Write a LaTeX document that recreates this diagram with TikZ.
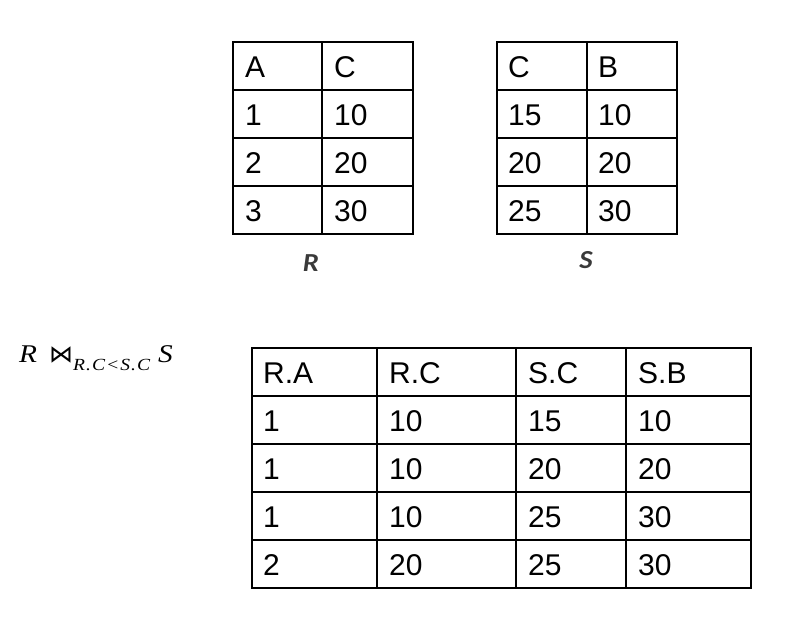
\documentclass[tikz,border=0pt]{standalone}
\usepackage{fontspec}
\setmainfont{Liberation Sans}
\newfontfamily\cellfont{Liberation Sans}
\newfontfamily\labfont[FakeStretch=1.1]{Carlito}
\newfontfamily\serifit[FakeStretch=1.15]{Liberation Serif}
\newfontfamily\subit[FakeStretch=1.15,LetterSpace=6]{Liberation Serif}
\newfontfamily\symfont{DejaVu Sans}
\definecolor{labgray}{HTML}{3A3A3A}
\begin{document}
\begin{tikzpicture}[x=1pt,y=-1pt,
  cell/.style={anchor=base west, inner sep=0pt, font=\cellfont\fontsize{30}{34}\selectfont},
  grid/.style={line width=1.3pt, black},
  lab/.style={anchor=base, inner sep=0pt, text=labgray, font=\labfont\bfseries\itshape\fontsize{26}{30}\selectfont},
  mathpart/.style={anchor=base west, inner sep=0pt}]
\useasboundingbox (0,0) rectangle (799,642);

% ---- table R ----
\draw[grid] (233,42) rectangle (413,234);
\foreach \y in {90,138,186} \draw[grid] (233,\y) -- (413,\y);
\draw[grid] (322,42) -- (322,234);
\foreach \t [count=\i from 0] in {A,1,2,3}
  \node[cell] (ra\i) at (245,{77+48*\i}) {\t};
\foreach \t [count=\i from 0] in {C,10,20,30}
  \node[cell] (rc\i) at (334,{77+48*\i}) {\t};
\node[lab] (rlabel) at (311,271) {R};

% ---- table S ----
\draw[grid] (497,42) rectangle (677,234);
\foreach \y in {90,138,186} \draw[grid] (497,\y) -- (677,\y);
\draw[grid] (587,42) -- (587,234);
\foreach \t [count=\i from 0] in {C,15,20,25}
  \node[cell] (sc\i) at (508,{77+48*\i}) {\t};
\foreach \t [count=\i from 0] in {B,10,20,30}
  \node[cell] (sb\i) at (598,{77+48*\i}) {\t};
\node[lab] (slabel) at (586,268) {S};

% ---- join formula ----
\node[mathpart, font=\serifit\itshape\fontsize{25.5}{30}\selectfont] (jr) at (19,362) {R};
\node[mathpart, font=\symfont\fontsize{24}{28}\selectfont] (jb) at (49,362) {⋈};
\node[mathpart, font=\subit\itshape\fontsize{17}{20}\selectfont] (jc) at (73,370) {R.C<S.C};
\node[mathpart, font=\serifit\itshape\fontsize{25.5}{30}\selectfont] (js) at (158,362) {S};

% ---- result table ----
\draw[grid] (252,348) rectangle (751,588);
\foreach \y in {396,444,492,540} \draw[grid] (252,\y) -- (751,\y);
\foreach \x in {377,516,626} \draw[grid] (\x,348) -- (\x,588);
\foreach \t [count=\i from 0] in {R.A,1,1,1,2}
  \node[cell] (ta\i) at (263,{383.5+48*\i}) {\t};
\foreach \t [count=\i from 0] in {R.C,10,10,10,20}
  \node[cell] (tb\i) at (389,{383.5+48*\i}) {\t};
\foreach \t [count=\i from 0] in {S.C,15,20,25,25}
  \node[cell] (tc\i) at (528,{383.5+48*\i}) {\t};
\foreach \t [count=\i from 0] in {S.B,10,20,30,30}
  \node[cell] (td\i) at (638,{383.5+48*\i}) {\t};
\end{tikzpicture}
\end{document}
